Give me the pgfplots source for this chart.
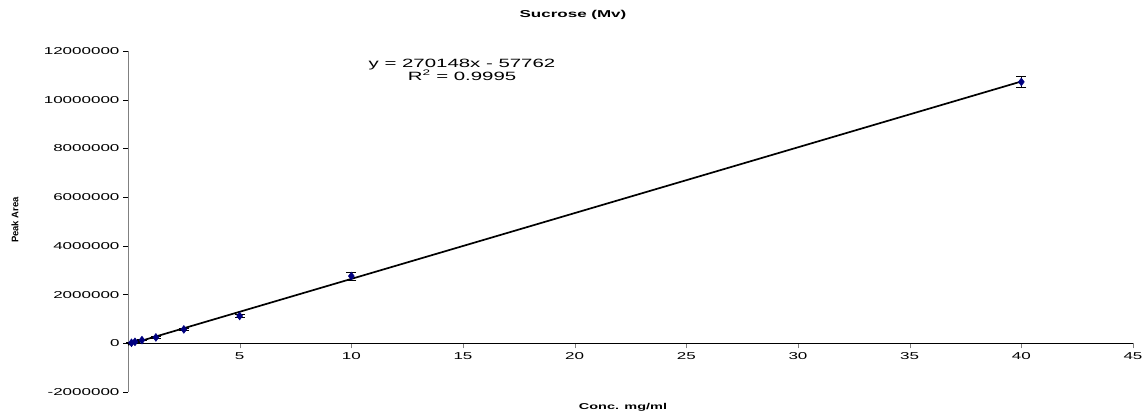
\documentclass[border=0pt]{standalone}
\usepackage{fontspec}
\setmainfont{Liberation Sans}
\newfontfamily\widefont[FakeStretch=1.7]{Liberation Sans}
\usepackage{pgfplots}
\pgfplotsset{compat=1.18}
\definecolor{navy}{RGB}{0,0,128}
\definecolor{axgrey}{RGB}{128,128,128}
\begin{document}
\begin{tikzpicture}
\path[use as bounding box] (0,0) rectangle (1147pt,414pt);
\begin{axis}[
  at={(128pt,22pt)}, anchor=south west,
  scale only axis, width=1005pt, height=341pt,
  xmin=0, xmax=45, ymin=-2000000, ymax=12000000,
  axis x line=middle, axis y line=left,
  x axis line style={black,-}, y axis line style={axgrey,-},
  xtick={0,5,10,15,20,25,30,35,40,45},
  ytick={-2000000,0,2000000,4000000,6000000,8000000,10000000,12000000},
  yticklabels={-2000000,0,2000000,4000000,6000000,8000000,10000000,12000000},
  tick align=outside, major tick length=5pt,
  xtick style={axgrey}, ytick style={black},
  scaled y ticks=false,
  /pgf/number format/assume math mode=true,
  yticklabel style={font=\widefont\fontsize{10}{10}\selectfont},
  xticklabel style={font=\widefont\fontsize{10}{10}\selectfont, yshift=-1pt},
  clip=false,
]
\addplot[black, line width=1.7pt] coordinates {(0,-57762) (40,10748158)};
\addplot[navy, only marks, mark=diamond*, mark size=4pt,
  error bars/.cd, y dir=both, y explicit,
  error bar style={black, line width=0.9pt},
  error mark options={black, line width=0.9pt, mark size=5pt, rotate=90}]
  coordinates {
  (0.15625,20000) +- (0,15000)
  (0.3125,60000) +- (0,15000)
  (0.625,130000) +- (0,20000)
  (1.25,240000) +- (0,30000)
  (2.5,570000) +- (0,40000)
  (5,1120000) +- (0,70000)
  (10,2760000) +- (0,160000)
  (40,10730000) +- (0,230000)
  };
\end{axis}
\node[font=\widefont\bfseries\fontsize{10}{10}\selectfont] at (573pt,399pt) {Sucrose (Mv)};
\node[font=\widefont\bfseries\fontsize{8.5}{8.5}\selectfont] at (623pt,7pt) {Conc. mg/ml};
\node[font=\bfseries\fontsize{9.5}{9.5}\selectfont, rotate=90, inner sep=0pt] at (15pt,194pt) {Peak Area};
\node[font=\widefont\fontsize{12}{12}\selectfont, align=center, inner sep=0pt] at (462pt,344pt) {y = 270148x - 57762\\[-1pt]R\textsuperscript{2} = 0.9995};
\end{tikzpicture}
\end{document}
